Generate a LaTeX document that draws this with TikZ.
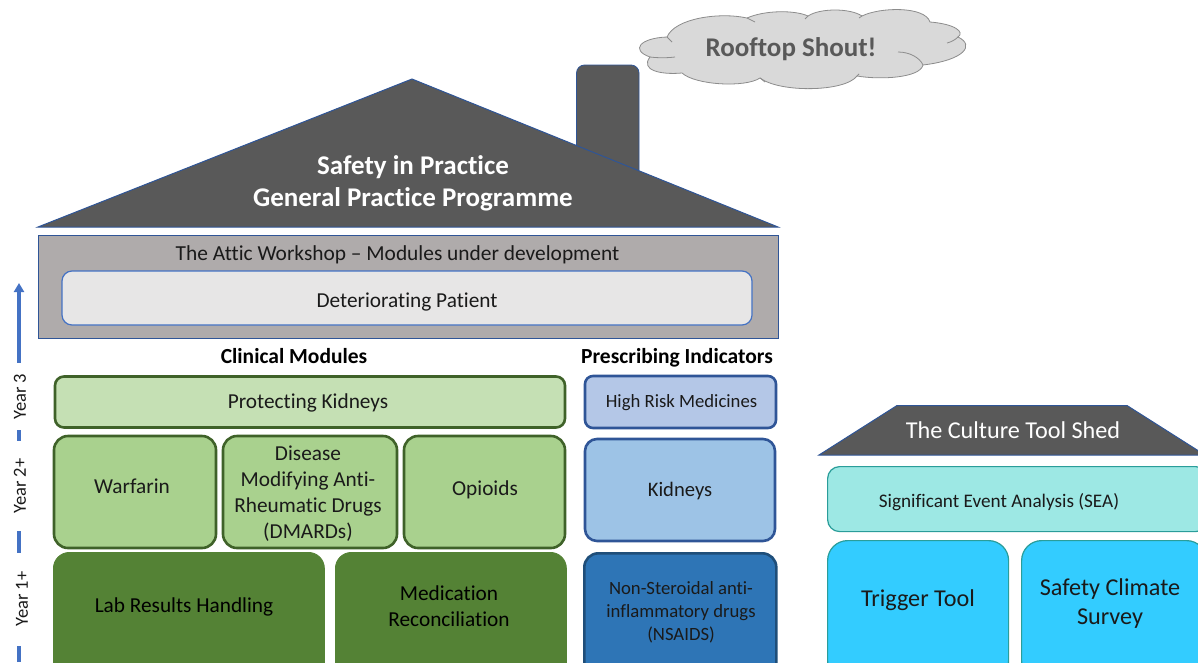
\documentclass[tikz,border=0pt]{standalone}
\usepackage{fontspec}
\setmainfont[Ligatures=NoCommon]{Carlito}
\usetikzlibrary{arrows.meta}
\definecolor{roofc}{HTML}{595959}
\definecolor{edgeb}{HTML}{2F5597}
\definecolor{atticc}{HTML}{AFABAB}
\definecolor{greyc}{HTML}{E7E6E6}
\definecolor{greenl}{HTML}{C5E0B4}
\definecolor{greenm}{HTML}{A9D18E}
\definecolor{greend}{HTML}{548235}
\definecolor{greene}{HTML}{3F6229}
\definecolor{bluel}{HTML}{B4C7E7}
\definecolor{bluem}{HTML}{9DC3E6}
\definecolor{blued}{HTML}{2E75B6}
\definecolor{bluee}{HTML}{1F4E79}
\definecolor{tealc}{HTML}{9DE8E4}
\definecolor{teale}{HTML}{2A9D9A}
\definecolor{cyanc}{HTML}{33CCFF}
\definecolor{arrowc}{HTML}{4472C4}
\definecolor{cloudc}{HTML}{D9D9D9}
\definecolor{cloude}{HTML}{8C8C8C}
\definecolor{textc}{HTML}{1A1A1A}
\tikzset{
  box/.style={draw,rounded corners=#1,inner sep=0pt,align=center,text=textc,font=\fontsize{21.3}{26}\selectfont},
  box/.default=14pt,
  gm/.style={box,fill=greenm,draw=greene,line width=2.6pt},
  bm/.style={box,draw=edgeb,line width=2.6pt},
  cy/.style={box=20pt,fill=cyanc,draw=teale,line width=1.2pt},
  head/.style={font=\bfseries\fontsize{21.5}{26}\selectfont,text=black,inner sep=0pt},
  lab/.style={inner sep=0pt,text=textc,align=center,font=\fontsize{21.3}{26}\selectfont},
  labbig/.style={inner sep=0pt,text=textc,align=center,font=\fontsize{24.2}{29}\selectfont},
  yearlab/.style={rotate=90,fill=white,inner sep=0pt,font=\fontsize{18.5}{22}\selectfont,text=textc},
}
\begin{document}
\begin{tikzpicture}[x=1pt,y=-1pt]
\useasboundingbox (0,0) rectangle (1198,662);
\clip (0,0) rectangle (1198,662);
% chimney
\draw[fill=roofc,draw=edgeb,line width=.8pt,rounded corners=8pt] (576.5,160) -- (576.5,65) -- (639,65) -- (639,185) -- cycle;
% roof
\path[fill=roofc,draw=edgeb,line width=1pt] (38,227) -- (412,79) -- (778,227) -- cycle;
\node[font=\bfseries\fontsize{27}{32}\selectfont,text=white,align=center,inner sep=0pt] (title) at (413,183) {Safety in Practice\\General Practice Programme};
% attic
\node[draw=edgeb,fill=atticc,line width=1pt,minimum width=740pt,minimum height=103pt,inner sep=0pt] (attic) at (408,286.5) {};
\node[lab,font=\fontsize{21.4}{26}\selectfont] (atticlab) at (397.5,255) {The Attic Workshop -- Modules under development};
\node[box=10pt,fill=greyc,draw=arrowc,line width=1.2pt,minimum width=690pt,minimum height=54pt] (det) at (407,298) {};
\node[lab] (detlab) at (407,302) {Deteriorating Patient};
% headers
\node[head] (clin) at (294,356) {Clinical Modules};
\node[head] (presc) at (677,358) {Prescribing Indicators};
% clinical
\node[box=9pt,fill=greenl,draw=greene,line width=2.6pt,minimum width=510pt,minimum height=51pt] (prot) at (310,402) {};
\node[lab] (protlab) at (308,403) {Protecting Kidneys};
\node[gm,minimum width=162pt,minimum height=112pt] (warf) at (135,492) {};
\node[lab] (warflab) at (132,486) {Warfarin};
\node[gm,minimum width=174pt,minimum height=112pt] (dmard) at (310,492) {};
\node[lab] (dmardlab) at (308,494) {Disease\\Modifying Anti-\\Rheumatic Drugs\\(DMARDs)};
\node[gm,minimum width=161pt,minimum height=112pt] (opi) at (484.5,492) {};
\node[lab] (opilab) at (485,490) {Opioids};
\node[box=16pt,fill=greend,draw=greend,line width=.8pt,minimum width=271pt,minimum height=130pt,anchor=north west] (labr) at (53,552) {};
\node[lab,text=black] (lablab) at (184,607) {Lab Results Handling};
\node[box=16pt,fill=greend,draw=greend,line width=.8pt,minimum width=231pt,minimum height=130pt,anchor=north west] (med) at (335,552) {};
\node[lab,text=black] (medlab) at (449,606) {Medication\\Reconciliation};
% prescribing
\node[bm,box=8pt,fill=bluel,minimum width=191pt,minimum height=52pt] (high) at (680.5,402) {};
\node[lab,font=\fontsize{18.7}{22}\selectfont] (highlab) at (681.5,403) {High Risk Medicines};
\node[bm,box=12pt,fill=bluem,minimum width=190pt,minimum height=102pt] (kid) at (680,490) {};
\node[lab,font=\fontsize{20.6}{26}\selectfont] (kidlab) at (680,491) {Kidneys};
\node[box=14pt,fill=blued,draw=bluee,line width=2.6pt,minimum width=192pt,minimum height=130pt,anchor=north west] (ns) at (583,552) {};
\node[lab,font=\fontsize{18.7}{23}\selectfont] (nslab) at (681,612) {Non-Steroidal anti-\\inflammatory drugs\\(NSAIDS)};
% shed
\path[fill=roofc,draw=edgeb,line width=1pt] (819,455) -- (897,405.5) -- (1127,405.5) -- (1205,455) -- cycle;
\node[labbig,text=white] (shed) at (1013,430) {The Culture Tool Shed};
\node[box=12pt,fill=tealc,draw=teale,line width=1.2pt,minimum width=380pt,minimum height=65pt,anchor=north west] (sea) at (827,466) {};
\node[lab,font=\fontsize{19.2}{24}\selectfont] (sealab) at (999,502) {Significant Event Analysis (SEA)};
\node[cy,minimum width=181pt,minimum height=140pt,anchor=north west] (trig) at (827,540) {};
\node[labbig] (triglab) at (918,600) {Trigger Tool};
\node[cy,minimum width=185pt,minimum height=140pt,anchor=north west] (clim) at (1021,540) {};
\node[labbig] (climlab) at (1110,604) {Safety Climate\\Survey};
% cloud
\path[fill=cloudc,draw=cloude,line width=.8pt]
 (667,37) .. controls (675,18) and (720,12) .. (747,18)
 .. controls (765,10) and (795,10) .. (808,16)
 .. controls (820,8) and (850,8) .. (862,16)
 .. controls (880,7) and (925,6) .. (930,22)
 .. controls (955,24) and (965,32) .. (958,37)
 .. controls (975,45) and (965,60) .. (923,65)
 .. controls (920,78) and (880,80) .. (857,76)
 .. controls (845,92) and (780,93) .. (760,78)
 .. controls (745,88) and (695,85) .. (682,73)
 .. controls (660,75) and (640,70) .. (650,57)
 .. controls (630,50) and (640,38) .. (667,37) -- cycle;
\draw[cloude,line width=.8pt] (650,57) .. controls (658,58) and (667,58) .. (675,57)
 (667,37) -- (672,42)
 (747,18) -- (755,22)
 (808,16) -- (805,19)
 (862,16) -- (859,18)
 (898,52) .. controls (910,52) and (920,58) .. (923,65)
 (947,43) .. controls (951,42) and (955,40) .. (958,37)
 (760,78) -- (765,82)
 (857,76) -- (859,74);
\node[inner sep=0pt,text=roofc,font=\bfseries\fontsize{27}{30}\selectfont] (shout) at (791,49) {Rooftop Shout!};
% timeline
\coordinate (tstart) at (19,662);
\coordinate (tend) at (19,283);
\draw[arrowc,line width=3.2pt,-{Triangle[length=9pt,width=10pt]}] (tstart) -- (tend);
\node[yearlab,minimum width=67pt,minimum height=32pt] (y3) at (20,396.5) {Year 3};
\node[yearlab,minimum width=90pt,minimum height=32pt] (y2) at (20,486) {Year 2+};
\node[yearlab,minimum width=93pt,minimum height=32pt] (y1) at (22,599) {Year 1+};
\end{tikzpicture}
\end{document}
